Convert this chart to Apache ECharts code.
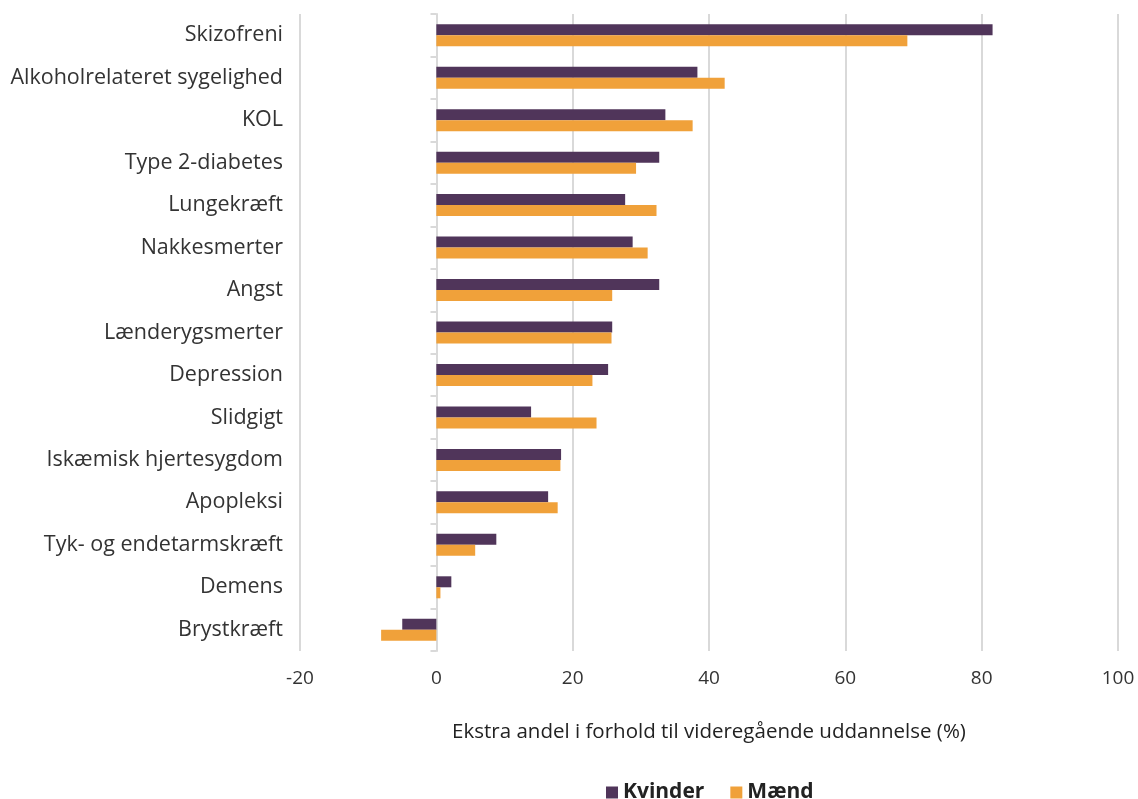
<!DOCTYPE html>
<html><head><meta charset="utf-8">
<script src="https://cdn.jsdelivr.net/npm/echarts@6/dist/echarts.min.js"></script>
<style>html,body{margin:0;padding:0;background:#fff}#c{width:1138px;height:799px}</style>
</head><body><div id="c"></div>
<script>
const categories = ["Skizofreni","Alkoholrelateret sygelighed","KOL","Type 2-diabetes","Lungekræft","Nakkesmerter","Angst","Lænderygsmerter","Depression","Slidgigt","Iskæmisk hjertesygdom","Apopleksi","Tyk- og endetarmskræft","Demens","Brystkræft"];
const kvinder = [81.6,38.3,33.6,32.7,27.7,28.8,32.7,25.8,25.2,13.9,18.3,16.4,8.8,2.2,-5.0];
const maend = [69.1,42.3,37.6,29.3,32.3,31.0,25.8,25.7,22.9,23.5,18.2,17.8,5.7,0.6,-8.1];
const xTicks = {min:-20,max:100,interval:20};
const axisName = "Ekstra andel i forhold til videregående uddannelse (%)";

const font = "'Open Sans', Lato, sans-serif";
const chart = echarts.init(document.getElementById('c'));
chart.setOption({
  animation:false,
  grid:{left:300,right:20,top:14,bottom:148,containLabel:false},
  legend:{top:777,left:601,itemWidth:12,itemHeight:12,itemGap:26,icon:'rect',
    textStyle:{fontFamily:font,fontWeight:'bold',fontSize:21,color:'#222'},
    data:['Kvinder','Mænd']},
  xAxis:{type:'value',min:xTicks.min,max:xTicks.max,interval:xTicks.interval,
    axisLine:{show:false},axisTick:{show:false},
    splitLine:{show:true,lineStyle:{color:'#d9d9d9',width:2}},
    axisLabel:{fontFamily:font,fontSize:19,color:'#333',margin:18},
    name:axisName,nameLocation:'middle',nameGap:71,
    nameTextStyle:{fontFamily:font,fontSize:20.5,color:'#222'}},
  yAxis:[
    {type:'category',data:categories,inverse:true,
      axisLine:{show:false,onZero:false},axisTick:{show:false},
      axisLabel:{fontFamily:font,fontSize:21.5,color:'#333',margin:17}},
    {type:'category',data:categories,inverse:true,position:'left',offset:-136.5,
      axisLine:{show:true,onZero:false,lineStyle:{color:'#d9d9d9',width:2}},
      axisTick:{show:true,length:6,lineStyle:{color:'#d9d9d9',width:2}},
      axisLabel:{show:false}}
  ],
  series:[
    {name:'Kvinder',type:'bar',data:kvinder,barWidth:11,barGap:'0%',itemStyle:{color:'#50355a'}},
    {name:'Mænd',type:'bar',data:maend,barWidth:11,barGap:'0%',itemStyle:{color:'#f0a13a'}}
  ]
});
</script></body></html>
